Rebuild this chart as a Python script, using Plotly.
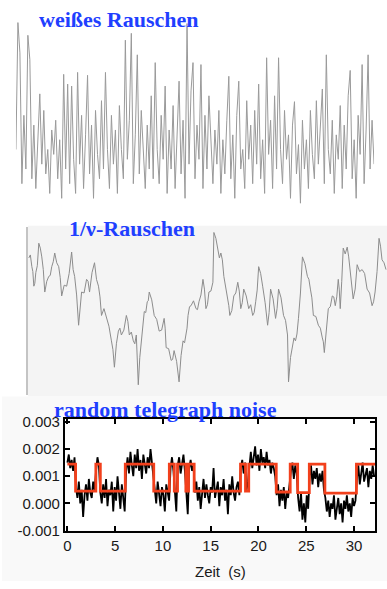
import plotly.graph_objects as go

W, H = 387, 589

# ---------- Panel 1: white noise (sample index, amplitude) ----------
white_amp = [60, 190, 159, 25, 95, 40, 177, 152, 30, 85, 20, 70, 117, 45, 100, 35, 60, 15, 80, 55,
             90, 30, 70, 10, 137, 40, 127, 25, 125, 50, 15, 139, 45, 95, 20, 75, 136, 35, 85, 10,
             100, 55, 30, 110, 40, 139, 60, 20, 95, 45, 80, 15, 105, 60, 30, 172, 50, 90, 179, 25,
             75, 157, 35, 100, 55, 20, 85, 40, 115, 30, 149, 60, 25, 95, 50, 125, 15, 80, 40, 105,
             20, 70, 130, 35, 90, 10, 189, 45, 120, 149, 30, 85, 50, 147, 20, 95, 40, 115, 60, 25,
             80, 45, 100, 15, 70, 35, 90, 135, 30, 75, 10, 95, 130, 40, 60, 20, 110, 50, 85, 25,
             100, 45, 127, 30, 70, 15, 154, 55, 90, 20, 115, 40, 154, 60, 25, 100, 50, 75, 10, 85,
             109, 35, 65, 5, 90, 40, 70, 20, 100, 55, 30, 110, 45, 80, 122, 25, 157, 60, 35, 90,
             15, 75, 50, 105, 20, 85, 40, 115, 141, 30, 70, 10, 95, 55, 147, 25, 80, 157, 40, 90, 45]
white_idx = list(range(len(white_amp)))

# ---------- Panel 2: 1/f noise (time, amplitude) ----------
pink_t = [1, 2.5, 4, 5, 6, 7, 8, 9.5, 11, 12.5,
          14, 15.5, 17, 19, 21, 22.5, 24, 25.5, 27, 29,
          31, 32.5, 34, 36.5, 39, 41.5, 44, 45.5, 47, 49,
          51, 52.5, 54, 56.5, 59, 60.5, 62, 64.5, 67, 69,
          71, 72.5, 74, 76.5, 79, 81.5, 84, 85.5, 87, 89,
          91, 92.5, 94, 96.5, 99, 100.5, 102, 104, 106, 107.5,
          109, 110, 111, 112.5, 114, 115.5, 117, 118.5, 120, 121,
          122, 124.5, 127, 129.5, 132, 134.5, 137, 138, 139, 141.5,
          144, 145.5, 147, 149.5, 152, 154, 156, 157.5, 159, 160,
          161, 162.5, 164, 166.5, 169, 170.5, 172, 174, 176, 177.5,
          179, 180.5, 182, 184, 186, 187, 189, 191, 192.5, 194,
          195.5, 197, 199, 201, 202, 203, 205, 207, 209, 211,
          212.5, 214, 215.5, 217, 219.5, 222, 224, 226, 227.5, 229,
          230.5, 232, 234, 236, 238.5, 241, 242.5, 244, 246.5, 249,
          250.5, 252, 254.5, 257, 259, 261, 262, 264, 266, 267.5,
          269, 270.5, 272, 274, 276, 278.5, 281, 282.5, 284, 285.5,
          287, 289.5, 292, 294, 296, 297, 298, 300, 302, 304,
          306, 307.5, 309, 310.5, 312, 313, 314, 315.5, 317, 319,
          321, 322.5, 324, 325.5, 327, 329, 331, 333.5, 336, 338.5,
          341, 343.5, 346, 347.5, 349, 351, 353, 354.5, 356, 358,
          360]
pink_amp = [140, 143, 131, 126, 111, 114, 125, 132, 155, 150,
            141, 128, 105, 116, 121, 122, 131, 136, 145, 135,
            131, 120, 101, 112, 111, 124, 146, 128, 121, 102,
            71, 92, 105, 104, 118, 116, 105, 125, 135, 118,
            111, 100, 81, 88, 78, 70, 55, 46, 28, 52,
            65, 68, 61, 66, 81, 75, 61, 64, 55, 52,
            61, 40, 10, 38, 55, 66, 85, 84, 95, 96,
            105, 97, 81, 77, 65, 66, 78, 68, 48, 47,
            35, 36, 45, 34, 13, 40, 55, 53, 61, 68,
            81, 90, 91, 96, 88, 87, 95, 102, 118, 108,
            88, 92, 105, 106, 115, 166, 160, 148, 140, 145,
            138, 121, 110, 95, 91, 81, 86, 101, 104, 115,
            106, 88, 94, 108, 101, 88, 92, 81, 84, 95,
            107, 131, 124, 111, 94, 71, 84, 108, 98, 78,
            88, 108, 99, 81, 76, 61, 13, 38, 51, 58,
            55, 62, 78, 104, 141, 134, 121, 118, 108, 99,
            81, 80, 71, 68, 58, 54, 43, 62, 88, 90,
            101, 100, 91, 100, 118, 108, 88, 116, 150, 144,
            151, 141, 125, 114, 98, 108, 133, 126, 128, 124,
            108, 104, 91, 95, 105, 126, 160, 152, 138, 135,
            128]

# ---------- Panel 3: random telegraph noise ----------
rtn_dt = 0.15
rtn_signal = [15, 18, 13, 16, 12, 17,
              6, 2, 8, 0, 5, -5, 3, 7, 1, 9, 4, 2, 8, 5,
              12, 17, 14,
              4, 0, 7, 2, 9, -1, 5, 3, 8, -3, 6, 1, 10, 4, -2, 7, 3, -3,
              12, 17, 11, 19, 14, 10, 18, 13, 20, 12, 16, 9, 18, 14, 11, 17, 13, 20, 15, 10,
              5, 0, 8, 2, -1, 6, 3, -3, 7, 4, 1,
              13, 17, 12,
              6, -3,
              14, 17, 11, 15, 18, 12,
              2, -4,
              13, 16, 12, 14,
              4, 8, 1, 6, -2, 5, 9, 2, 7, 3, 0, 6, 4, 13, 2, 5, 8, -1, 6, 3, 9, 1, 5, -4, 7, 3, 10, 4, 1, 6, 8, 3,
              13, 16, 11, 15,
              5, 8,
              15, 19, 13, 17, 21, 14, 18, 12, 20, 15, 17, 13, 19, 14, 16, 11, 15, 13, 10,
              3, 7, -1, 5, 1, 6, -2, 4, 2, 8,
              12, 15, 9, 14, 11,
              2, -3, 4, -6, 0, -7, 3, -2,
              10, 14, 7, 12, 9, 13, 6, 11, 8, 12, 5,
              2, -3, 1, -5, 0, -2, 3, -6, -1, 2, -4, 0, -7, 1, -2, 3, -3, 0, -5, 2, -1, 1,
              9, 14, 7, 12, 15, 8, 11, 13, 6, 12, 9, 14, 10]  # units of 1e-4
rtn_time = [round(i * rtn_dt, 3) for i in range(len(rtn_signal))]

step_t = [0, 0.86, 2.98, 3.45, 6.06, 9.04, 10.67, 11.19, 11.53, 12.4, 12.68, 13.27,
          18.12, 18.64, 18.98, 21.86, 23.32, 24.1, 25.32, 26.95, 30.25, 32.2]
step_lvl = [14.5, 4.5, 14.5, 4.5, 14.5, 4.5, 14.5, 4.5, 14.5, 4.5, 14.5, 4.5,
            14.5, 4.5, 14.5, 4.2, 14.5, 4.0, 14.5, 3.8, 14.5, 14.5]  # units of 1e-4

x3_ticks = [0, 5, 10, 15, 20, 25, 30]
y3_ticks = [-0.001, 0.0, 0.001, 0.002, 0.003]
y3_ticktext = ["-0.001", "0.000", "0.001", "0.002", "0.003"]

# ---------- figure ----------
def px_x(p):
    return p / W

def px_y(p):
    return 1 - p / H

fig = go.Figure()

fig.add_trace(go.Scatter(x=white_idx, y=white_amp, mode="lines",
                         line=dict(color="#9a9a9a", width=1), xaxis="x", yaxis="y",
                         showlegend=False, hoverinfo="skip"))
fig.add_trace(go.Scatter(x=pink_t, y=pink_amp, mode="lines",
                         line=dict(color="#8c8c8c", width=1), xaxis="x2", yaxis="y2",
                         showlegend=False, hoverinfo="skip"))
fig.add_trace(go.Scatter(x=rtn_time, y=[v * 1e-4 for v in rtn_signal], mode="lines",
                         line=dict(color="#000000", width=1.8), xaxis="x3", yaxis="y3",
                         showlegend=False, hoverinfo="skip"))
fig.add_trace(go.Scatter(x=step_t, y=[v * 1e-4 for v in step_lvl], mode="lines",
                         line=dict(color="#f2401c", width=2.8, shape="hv"), xaxis="x3", yaxis="y3",
                         showlegend=False, hoverinfo="skip"))

hidden = dict(showgrid=False, zeroline=False, showticklabels=False, ticks="", showline=False)

tickfont = dict(family="Liberation Sans", size=15, color="#1a1a1a")

fig.update_layout(
    width=W, height=H,
    margin=dict(l=0, r=0, t=0, b=0),
    paper_bgcolor="white",
    plot_bgcolor="rgba(0,0,0,0)",
    xaxis=dict(domain=[px_x(14), px_x(374)], range=[0, len(white_amp) - 1], **hidden),
    yaxis=dict(domain=[px_y(207), px_y(10)], range=[0, 197], **hidden),
    xaxis2=dict(domain=[px_x(26), 1.0], range=[0, 361], anchor="y2", **hidden),
    yaxis2=dict(domain=[px_y(398), px_y(226)], range=[0, 172], anchor="x2",
                showgrid=False, zeroline=False, showticklabels=False, ticks="",
                showline=True, linecolor="#c4c4c4", linewidth=1.5),
    xaxis3=dict(domain=[px_x(63.3), px_x(375)], range=[-0.25, 32.2], anchor="y3",
                showgrid=False, zeroline=False, showline=True, linecolor="black", linewidth=2,
                mirror="ticks", ticks="inside", ticklen=5, tickwidth=1.5, tickcolor="black",
                tickvals=x3_ticks, ticktext=[str(v) for v in x3_ticks], tickfont=tickfont),
    yaxis3=dict(domain=[px_y(537.3), px_y(423.3)], range=[-0.001, 0.0031], anchor="x3",
                showgrid=False, zeroline=False, showline=True, linecolor="black", linewidth=2,
                mirror="ticks", ticks="inside", ticklen=5, tickwidth=1.5, tickcolor="black",
                tickvals=y3_ticks, ticktext=y3_ticktext, tickfont=tickfont),
    shapes=[
        dict(type="rect", xref="paper", yref="paper", x0=px_x(26), x1=1.0, y0=px_y(400), y1=px_y(225),
             fillcolor="#f4f4f4", line=dict(width=0), layer="below"),
        dict(type="rect", xref="paper", yref="paper", x0=0, x1=1.0, y0=0, y1=px_y(400),
             fillcolor="#f9f9f9", line=dict(width=0), layer="below"),
        dict(type="rect", xref="paper", yref="paper", x0=px_x(63.3), x1=px_x(375), y0=px_y(537.3), y1=px_y(423.3),
             fillcolor="white", line=dict(width=0), layer="below"),
    ],
)

title_font = dict(family="Liberation Serif", size=22, color="#1f3fff", weight="bold")
fig.add_annotation(text="weißes Rauschen", xref="paper", yref="paper", x=px_x(118), y=px_y(14),
                   showarrow=False, xanchor="center", yanchor="middle", font=title_font)
fig.add_annotation(text="1/ν-Rauschen", xref="paper", yref="paper", x=px_x(131), y=px_y(228),
                   showarrow=False, xanchor="center", yanchor="middle", font=title_font)
fig.add_annotation(text="random telegraph noise", xref="paper", yref="paper", x=px_x(164), y=px_y(413),
                   showarrow=False, xanchor="center", yanchor="middle", font=title_font)
fig.add_annotation(text="Zeit\u00a0 (s)", xref="paper", yref="paper", x=px_x(220), y=px_y(579),
                   showarrow=False, xanchor="center", yanchor="middle",
                   font=dict(family="Liberation Sans", size=15, color="#1a1a1a"))

fig.write_html("out.html",
               config={"displayModeBar": False},
               post_script="document.body.style.margin='0px';document.body.style.padding='0px';"
                           "document.body.style.overflow='hidden';")
